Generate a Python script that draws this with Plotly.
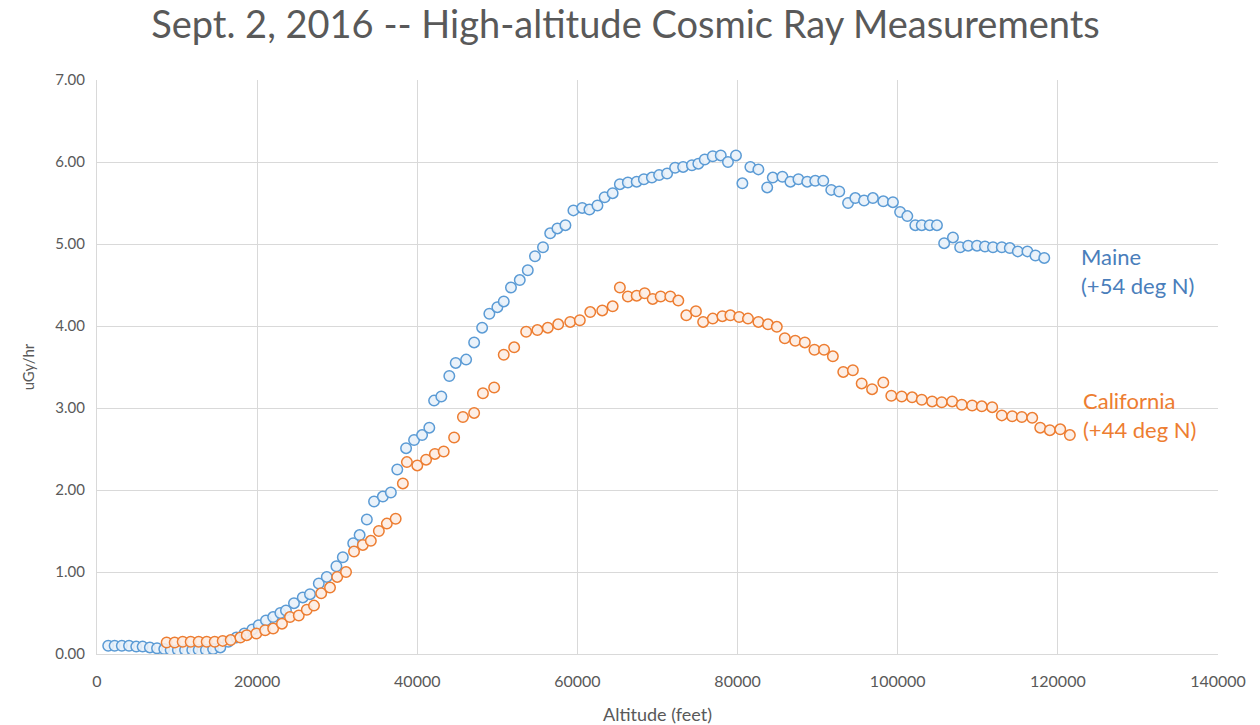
import plotly.graph_objects as go

# ---- data ----
maine_alt = [1400, 2200, 3100, 4000, 4900, 5700, 6600, 7500, 8400, 9200, 10100, 11000, 11900, 12700,
             13600, 14500, 15400, 16400, 17400, 18400, 19400, 20200, 21100, 22000, 22900, 23600, 24600,
             25700, 26600, 27700, 28700, 29900, 30700, 32000, 32800, 33700, 34600, 35700, 36700, 37500,
             38600, 39600, 40600, 41500, 42100, 43000, 44000, 44800, 46100, 47100, 48100, 49000, 50000,
             50800, 51700, 52800, 53800, 54700, 55700, 56600, 57500, 58500, 59500, 60600, 61500, 62500,
             63400, 64400, 65300, 66300, 67400, 68300, 69300, 70200, 71200, 72200, 73200, 74300, 75100,
             75900, 76900, 77900, 78800, 79800, 80600, 81600, 82600, 83700, 84400, 85600, 86600, 87600,
             88700, 89700, 90700, 91700, 92700, 93800, 94700, 95800, 96900, 98200, 99400, 100300, 101200,
             102200, 103000, 104000, 104900, 105800, 106900, 107800, 108800, 109900, 110900, 111900,
             113000, 114000, 115000, 116200, 117200, 118300]
maine_dose = [0.10, 0.10, 0.10, 0.10, 0.09, 0.09, 0.08, 0.07, 0.06, 0.05, 0.05, 0.05, 0.05, 0.05,
              0.05, 0.06, 0.08, 0.15, 0.20, 0.25, 0.30, 0.35, 0.41, 0.45, 0.50, 0.53, 0.62,
              0.69, 0.73, 0.86, 0.94, 1.07, 1.18, 1.35, 1.45, 1.64, 1.86, 1.92, 1.97, 2.25,
              2.51, 2.61, 2.67, 2.76, 3.09, 3.14, 3.39, 3.55, 3.59, 3.80, 3.98, 4.15, 4.23,
              4.30, 4.47, 4.56, 4.68, 4.85, 4.96, 5.13, 5.19, 5.23, 5.41, 5.44, 5.42, 5.47,
              5.57, 5.62, 5.73, 5.75, 5.76, 5.79, 5.81, 5.84, 5.86, 5.93, 5.94, 5.96, 5.98,
              6.03, 6.07, 6.08, 6.00, 6.08, 5.74, 5.94, 5.91, 5.69, 5.81, 5.82, 5.76, 5.79,
              5.76, 5.77, 5.77, 5.66, 5.64, 5.50, 5.56, 5.53, 5.56, 5.52, 5.51, 5.39, 5.34,
              5.23, 5.23, 5.23, 5.23, 5.01, 5.08, 4.96, 4.98, 4.98, 4.97, 4.96,
              4.96, 4.95, 4.91, 4.91, 4.86, 4.83]

calif_alt = [8700, 9700, 10700, 11700, 12700, 13700, 14700, 15700, 16700, 17900, 18700, 19900, 21000,
             22000, 23100, 24100, 25200, 26200, 27100, 28000, 29100, 30000, 31100, 32100, 33200, 34200,
             35200, 36200, 37300, 38200, 38700, 40000, 41100, 42200, 43300, 44600, 45700, 47100, 48200,
             49600, 50800, 52100, 53600, 55000, 56300, 57600, 59100, 60300, 61600, 63100, 64400, 65300,
             66300, 67400, 68400, 69400, 70400, 71600, 72600, 73600, 74800, 75700, 76900, 78100, 79100,
             80200, 81300, 82600, 83800, 84900, 85900, 87200, 88400, 89600, 90800, 91900, 93200, 94400,
             95500, 96800, 98200, 99200, 100500, 101800, 103000, 104300, 105500, 106800, 108000, 109300,
             110500, 111800, 113000, 114300, 115500, 116800, 117800, 119000, 120300, 121500]
calif_dose = [0.14, 0.14, 0.15, 0.15, 0.15, 0.15, 0.15, 0.16, 0.17, 0.20, 0.23, 0.25, 0.29,
              0.31, 0.37, 0.45, 0.47, 0.54, 0.59, 0.74, 0.81, 0.94, 1.00, 1.25, 1.33, 1.38,
              1.50, 1.59, 1.65, 2.08, 2.34, 2.30, 2.37, 2.44, 2.47, 2.64, 2.89, 2.94, 3.18,
              3.25, 3.65, 3.74, 3.93, 3.95, 3.98, 4.02, 4.05, 4.07, 4.17, 4.19, 4.24, 4.47,
              4.36, 4.37, 4.40, 4.33, 4.36, 4.36, 4.31, 4.13, 4.18, 4.05, 4.09, 4.12, 4.13,
              4.11, 4.09, 4.05, 4.02, 3.99, 3.85, 3.82, 3.80, 3.71, 3.71, 3.63, 3.44, 3.46,
              3.30, 3.23, 3.31, 3.15, 3.14, 3.13, 3.10, 3.08, 3.07, 3.08, 3.04, 3.03,
              3.02, 3.01, 2.91, 2.90, 2.89, 2.88, 2.76, 2.73, 2.74, 2.67]

x_ticks = [0, 20000, 40000, 60000, 80000, 100000, 120000, 140000]
y_ticks = [0, 1, 2, 3, 4, 5, 6, 7]

title_text = "Sept. 2, 2016 -- High-altitude Cosmic Ray Measurements"
x_title = "Altitude (feet)"
y_title = "uGy/hr"
maine_label = "Maine<br>(+54 deg N)"
calif_label = "California<br>(+44 deg N)"

BLUE = "#5B9BD5"
ORANGE = "#ED7D31"
GRAY = "#595959"
GRID = "#D9D9D9"
FONT = "Lato"

fig = go.Figure()
fig.add_trace(go.Scatter(
    x=maine_alt, y=maine_dose, mode="markers", name="Maine",
    marker=dict(symbol="circle", size=10.5, color="rgba(232,241,250,0.9)",
                line=dict(color=BLUE, width=1.5)),
))
fig.add_trace(go.Scatter(
    x=calif_alt, y=calif_dose, mode="markers", name="California",
    marker=dict(symbol="circle", size=10.5, color="rgba(253,236,226,0.9)",
                line=dict(color=ORANGE, width=1.5)),
))

fig.add_annotation(x=122600, y=4.67, xref="x", yref="y", text=maine_label,
                   showarrow=False, xanchor="left", yanchor="middle", align="left",
                   font=dict(family=FONT, size=22, color="#4A7EBB"))
fig.add_annotation(x=122900, y=2.92, xref="x", yref="y", text=calif_label,
                   showarrow=False, xanchor="left", yanchor="middle", align="left",
                   font=dict(family=FONT, size=22, color=ORANGE))

fig.update_layout(
    width=1260, height=725,
    margin=dict(l=97, r=42, t=80, b=71),
    paper_bgcolor="white", plot_bgcolor="white",
    showlegend=False,
    title=dict(text=title_text, x=0.4964, xanchor="center", xref="container",
               y=0.9655, yanchor="middle", yref="container",
               font=dict(family=FONT, size=38, color=GRAY)),
    font=dict(family=FONT, color=GRAY),
)
fig.update_xaxes(
    range=[0, 140000], tickvals=x_ticks, tickformat="d", automargin=False,
    showgrid=True, gridcolor=GRID, gridwidth=1.3,
    showline=True, linecolor=GRID, linewidth=1.3,
    zeroline=False, ticks="", ticklabelstandoff=13,
    tickfont=dict(family=FONT, size=16, color=GRAY),
    title=dict(text=x_title, standoff=21, font=dict(family=FONT, size=18, color=GRAY)),
)
fig.update_yaxes(
    range=[0, 7], tickvals=y_ticks, tickformat=".2f", automargin=False,
    showgrid=True, gridcolor=GRID, gridwidth=1.3,
    showline=True, linecolor=GRID, linewidth=1.3,
    zeroline=False, ticks="", ticklabelstandoff=8,
    tickfont=dict(family=FONT, size=15, color=GRAY),
    title=dict(text=y_title, standoff=16, font=dict(family=FONT, size=15, color=GRAY)),
)

# remove the default 8px page margin so the figure fills the window exactly
fig.write_html("out.html",
               config={"displayModeBar": False},
               post_script="document.body.style.margin='0px';document.body.style.overflow='hidden';")
